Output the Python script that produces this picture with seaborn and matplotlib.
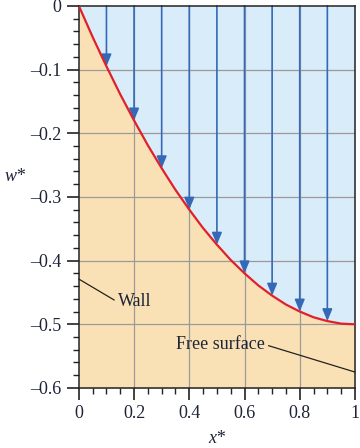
import numpy as np
import pandas as pd
import matplotlib.pyplot as plt
import seaborn as sns
from matplotlib.ticker import MultipleLocator

# Data
x_vals = [0.0, 0.05, 0.1, 0.15, 0.2, 0.25, 0.3, 0.35, 0.4, 0.45, 0.5,
          0.55, 0.6, 0.65, 0.7, 0.75, 0.8, 0.85, 0.9, 0.95, 1.0]
w_vals = [0.0, -0.049, -0.095, -0.139, -0.18, -0.219, -0.255, -0.289, -0.32, -0.349, -0.375,
          -0.399, -0.42, -0.439, -0.455, -0.469, -0.48, -0.489, -0.495, -0.499, -0.5]
arrow_x = [0.1, 0.2, 0.3, 0.4, 0.5, 0.6, 0.7, 0.8, 0.9]
arrow_w = [-0.095, -0.18, -0.255, -0.32, -0.375, -0.42, -0.455, -0.48, -0.495]
x_ticks = [0, 0.2, 0.4, 0.6, 0.8, 1]
x_tick_labels = ["0", "0.2", "0.4", "0.6", "0.8", "1"]
y_ticks = [0, -0.1, -0.2, -0.3, -0.4, -0.5, -0.6]
y_tick_labels = ["0", "\u20130.1", "\u20130.2", "\u20130.3", "\u20130.4", "\u20130.5", "\u20130.6"]

df = pd.DataFrame({"x": x_vals, "w": w_vals})

sns.set_style("ticks")
plt.rcParams["font.family"] = ["Liberation Serif", "DejaVu Serif"]

txt_col = "#1e2438"

fig = plt.figure(figsize=(3.6, 4.48), dpi=100)
ax = fig.add_axes([0.219, 0.134, 0.767, 0.853])

# Regions
ax.fill_between(df["x"], df["w"], 0, color="#d8ecf9", lw=0, zorder=0)
ax.fill_between(df["x"], -0.6, df["w"], color="#f9e1b5", lw=0, zorder=0)

# Grid
for gx in [0.2, 0.4, 0.6, 0.8]:
    ax.axvline(gx, color="#9a9a9a", lw=0.9, zorder=1)
for gy in [-0.1, -0.2, -0.3, -0.4, -0.5]:
    ax.axhline(gy, color="#9a9a9a", lw=0.9, zorder=1)

# Arrows
for ax_x, ax_w in zip(arrow_x, arrow_w):
    ax.annotate("", xy=(ax_x, ax_w), xytext=(ax_x, 0),
                arrowprops=dict(arrowstyle="-|>,head_length=0.6,head_width=0.25",
                                color="#3569b8", lw=1.2,
                                mutation_scale=12, shrinkA=0, shrinkB=0),
                zorder=2)

# Curve
sns.lineplot(data=df, x="x", y="w", color="#e0202a", lw=1.6, ax=ax, zorder=3)

# Annotations
ax.annotate("Wall", xy=(0.0, -0.429), xytext=(0.14, -0.465),
            fontsize=13, color=txt_col, va="center", ha="left",
            arrowprops=dict(arrowstyle="-", color="#222222", lw=0.9,
                            shrinkA=0, shrinkB=0, relpos=(0, 0.5)))
ax.annotate("Free surface", xy=(1.0, -0.575), xytext=(0.675, -0.532),
            fontsize=13, color=txt_col, va="center", ha="right",
            arrowprops=dict(arrowstyle="-", color="#222222", lw=0.9,
                            shrinkA=0, shrinkB=0, relpos=(1, 0.5)))

ax.set_xlim(0, 1)
ax.set_ylim(-0.6, 0)
ax.set_xticks(x_ticks)
ax.set_xticklabels(x_tick_labels)
ax.set_yticks(y_ticks)
ax.set_yticklabels(y_tick_labels)
ax.xaxis.set_minor_locator(MultipleLocator(0.05))
ax.yaxis.set_minor_locator(MultipleLocator(0.02))
ax.tick_params(which="major", length=8.5, width=1.2, labelsize=13,
               color="#222222", labelcolor=txt_col)
ax.tick_params(which="minor", length=4.5, width=1.0, color="#222222")
ax.tick_params(axis="x", pad=4)
ax.tick_params(axis="y", pad=4)
for s in ax.spines.values():
    s.set_visible(True)
    s.set_color("#222222")
    s.set_linewidth(1.1)

ax.set_xlabel("x*", fontsize=13, style="italic", color=txt_col)
ax.xaxis.set_label_coords(0.5, -0.11)
ax.set_ylabel("w*", fontsize=13, style="italic", rotation=0, color=txt_col)
ax.yaxis.set_label_coords(-0.23, 0.53)

fig.savefig("out.png", dpi=100)
